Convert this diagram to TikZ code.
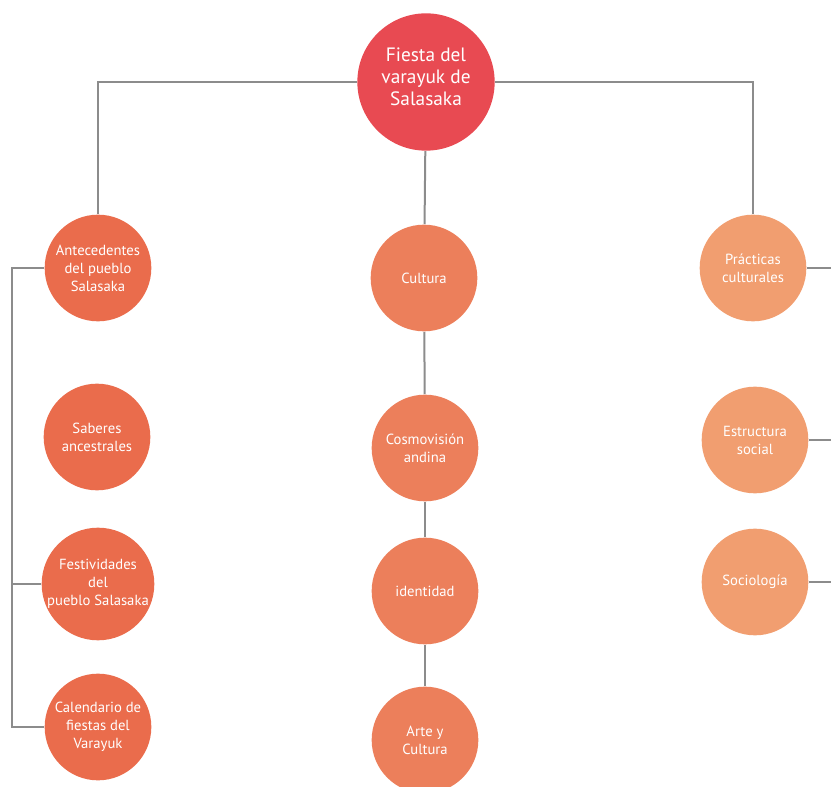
\documentclass[tikz,border=0pt]{standalone}
\usepackage{fontspec}
\setmainfont{PT Sans}
\usetikzlibrary{positioning}

\definecolor{topred}{RGB}{232,74,82}
\definecolor{leftorange}{RGB}{234,108,76}
\definecolor{midorange}{RGB}{236,127,91}
\definecolor{rightorange}{RGB}{241,158,112}
\definecolor{linkgray}{RGB}{140,140,140}

\tikzset{every picture/.style={line width=0.75pt}}
\tikzset{
  bubble/.style={circle, draw=none, minimum size=80pt, inner sep=0pt, text=white, align=center,
    font=\fontsize{11}{13.5}\selectfont},
  bigbubble/.style={bubble, minimum size=103pt, fill=topred, font=\fontsize{14.5}{16.5}\selectfont},
  link/.style={draw=linkgray, line width=1.5}
}

\begin{document}
\begin{tikzpicture}[x=0.75pt,y=0.75pt,yscale=-1,xscale=1]
\useasboundingbox (0,0) rectangle (831,787);

% Root
\node [bigbubble] (fiesta) at (426,82) {Fiesta del\\varayuk de\\Salasaka\\[-9pt]};

% Left column
\node [bubble, fill=leftorange] (antec) at (98,268) {Antecedentes\\del pueblo\\Salasaka};
\node [bubble, fill=leftorange] (saber) at (97,437) {Saberes\\ancestrales};
\node [bubble, fill=leftorange] (festiv) at (98,584) {Festividades\\del\\pueblo Salasaka};
\node [bubble, fill=leftorange] (calend) at (98,727) {Calendario de\\fiestas del\\Varayuk};

% Middle column
\node [bubble, fill=midorange] (cultura) at (424,278) {Cultura};
\node [bubble, fill=midorange] (cosmo) at (425,448) {Cosmovisión\\andina};
\node [bubble, fill=midorange] (ident) at (425,591) {identidad};
\node [bubble, fill=midorange] (arte) at (425,740) {Arte y\\Cultura};

% Right column
\node [bubble, fill=rightorange] (practic) at (753,268) {Prácticas\\culturales};
\node [bubble, fill=rightorange] (estruc) at (755,440) {Estructura\\social};
\node [bubble, fill=rightorange] (socio) at (755,582) {Sociología};

% free ends
\coordinate (brace) at (12,0);
\coordinate (rim) at (831,0);

% Connectors
\draw [link] (fiesta.west) -| (antec.north);
\draw [link] (fiesta.east) -| (practic.north);
\draw [link] (fiesta) -- (cultura);
\draw [link] (cultura) -- (cosmo);
\draw [link] (cosmo) -- (ident);
\draw [link] (ident) -- (arte);

\draw [link] (antec.west) -- (antec.west -| brace) |- (calend.west);
\draw [link] (festiv.west) -- (festiv.west -| brace);

\draw [link] (practic.east) -- (practic.east -| rim);
\draw [link] (estruc.east) -- (estruc.east -| rim);
\draw [link] (socio.east) -- (socio.east -| rim);

\end{tikzpicture}
\end{document}
